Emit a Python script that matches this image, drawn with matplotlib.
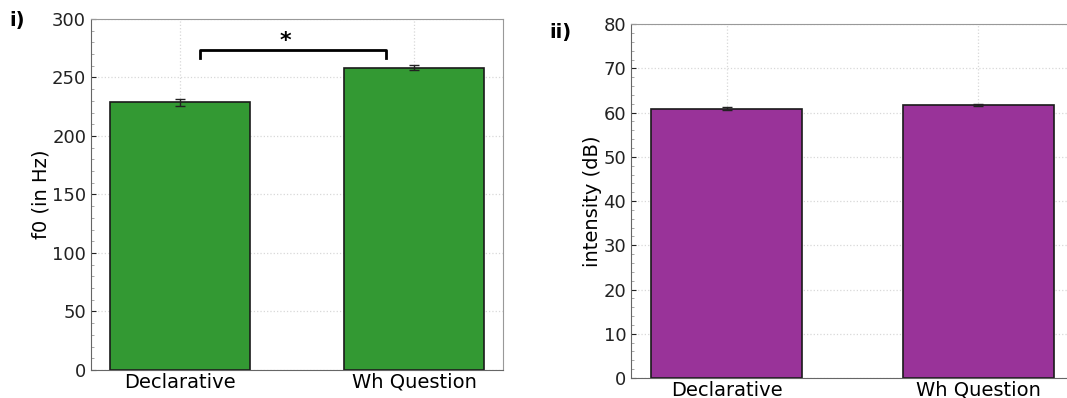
import numpy as np
import matplotlib.pyplot as plt
from matplotlib.ticker import MultipleLocator

# Datos
categorias = ['Declarative', 'Wh Question']
f0_media = [229, 258.5]
f0_error = [3.0, 2.5]
intensidad_media = [60.9, 61.7]
intensidad_error = [0.3, 0.3]

plt.rcParams['font.family'] = 'DejaVu Sans'
fig = plt.figure(figsize=(10.67, 3.98), dpi=100)

ax1 = fig.add_axes([0.0853, 0.0704, 0.386, 0.882])
ax2 = fig.add_axes([0.5914, 0.0503, 0.415, 0.889])

x = np.arange(len(categorias))


def estilo(ax, ylim, mayor, menor, ylabel):
    ax.set_axisbelow(True)
    ax.grid(True, color='#d8d8d8', linestyle=':', linewidth=0.9)
    ax.set_ylim(*ylim)
    ax.set_xlim(-0.38, 1.38)
    ax.yaxis.set_major_locator(MultipleLocator(mayor))
    ax.yaxis.set_minor_locator(MultipleLocator(menor))
    ax.tick_params(axis='y', which='both', direction='in', labelsize=13, colors='#222222')
    ax.tick_params(axis='y', which='minor', length=2, color='#999999')
    ax.tick_params(axis='x', direction='in', length=0, labelsize=14, pad=2)
    ax.set_xticks(x)
    ax.set_xticklabels(categorias)
    ax.set_ylabel(ylabel, fontsize=14, labelpad=1)
    for lado in ['top', 'right']:
        ax.spines[lado].set_color('#999999')
    for lado in ['left', 'bottom']:
        ax.spines[lado].set_color('#666666')


# --- Panel i) f0 ---
ax1.bar(x, f0_media, width=0.6, color='#339933', edgecolor='#1a1a1a', linewidth=1.2,
        yerr=f0_error, capsize=3.5, error_kw=dict(ecolor='#222222', elinewidth=1, capthick=1))
estilo(ax1, (0, 300), 50, 10, 'f0 (in Hz)')

# corchete de significancia
y_b, h = 273.5, 7
ax1.plot([0.085, 0.085, 0.88, 0.88], [y_b - h, y_b, y_b, y_b - h], color='black', linewidth=2)
ax1.text(0.45, y_b - 1, '*', ha='center', va='bottom', fontsize=16, fontweight='bold')

# --- Panel ii) intensidad ---
ax2.bar(x, intensidad_media, width=0.6, color='#993399', edgecolor='#1a1a1a', linewidth=1.2,
        yerr=intensidad_error, capsize=3.5, error_kw=dict(ecolor='#222222', elinewidth=1, capthick=1))
estilo(ax2, (0, 80), 10, 2, 'intensity (dB)')

# etiquetas de panel
fig.text(0.009, 0.935, 'i)', fontsize=14, fontweight='bold')
fig.text(0.515, 0.905, 'ii)', fontsize=14, fontweight='bold')

plt.savefig('out.png', dpi=100)
